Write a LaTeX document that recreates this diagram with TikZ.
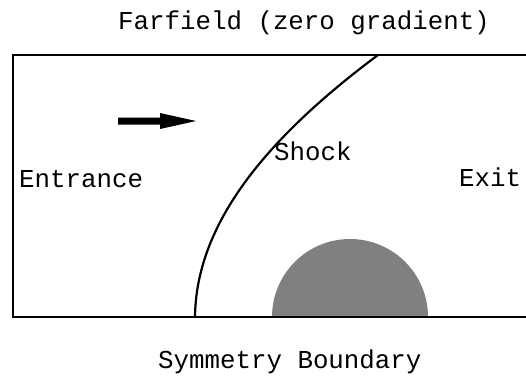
\documentclass[tikz,border=0pt]{standalone}
\usepackage{fontspec}
\setmonofont{Liberation Mono}
\usetikzlibrary{positioning}
\definecolor{bodygray}{HTML}{808080}

\begin{document}
\begin{tikzpicture}[
  x=1pt, y=-1pt,
  every node/.style={font=\fontsize{25.8}{30}\selectfont\ttfamily, inner sep=0pt},
  wall/.style={line width=2.6pt, line cap=rect},
  shockline/.style={line width=2.2pt},
]
\useasboundingbox (0,0) rectangle (526,375);

% Body: half circle on the symmetry line
\fill[bodygray] (272,317) arc[start angle=180, end angle=360, radius=78] -- cycle;

% Domain (right side runs off the page)
\draw[wall] (530,55) -- (13,55) -- (13,317) -- (530,317);

% Shock
\coordinate (sbot) at (195,317);
\coordinate (stop) at (378,55);
\draw[shockline] (sbot) .. controls (196,225) and (264,140) .. (stop);

% Flow direction
\fill (118,117.5) -- (160,117.5) -- (160,113) -- (196,121) -- (160,129) -- (160,124.5) -- (118,124.5) -- cycle;

% Labels
\node[anchor=base west] (farfield) at (118,29) {Farfield (zero gradient)};
\node[anchor=base west] (entrance) at (19,187) {Entrance};
\node[anchor=base west] (exit) at (459,186) {Exit};
\node[anchor=base west] (shock) at (274,160) {Shock};
\node[anchor=base west] (symmetry) at (158,368) {Symmetry Boundary};

\end{tikzpicture}
\end{document}
